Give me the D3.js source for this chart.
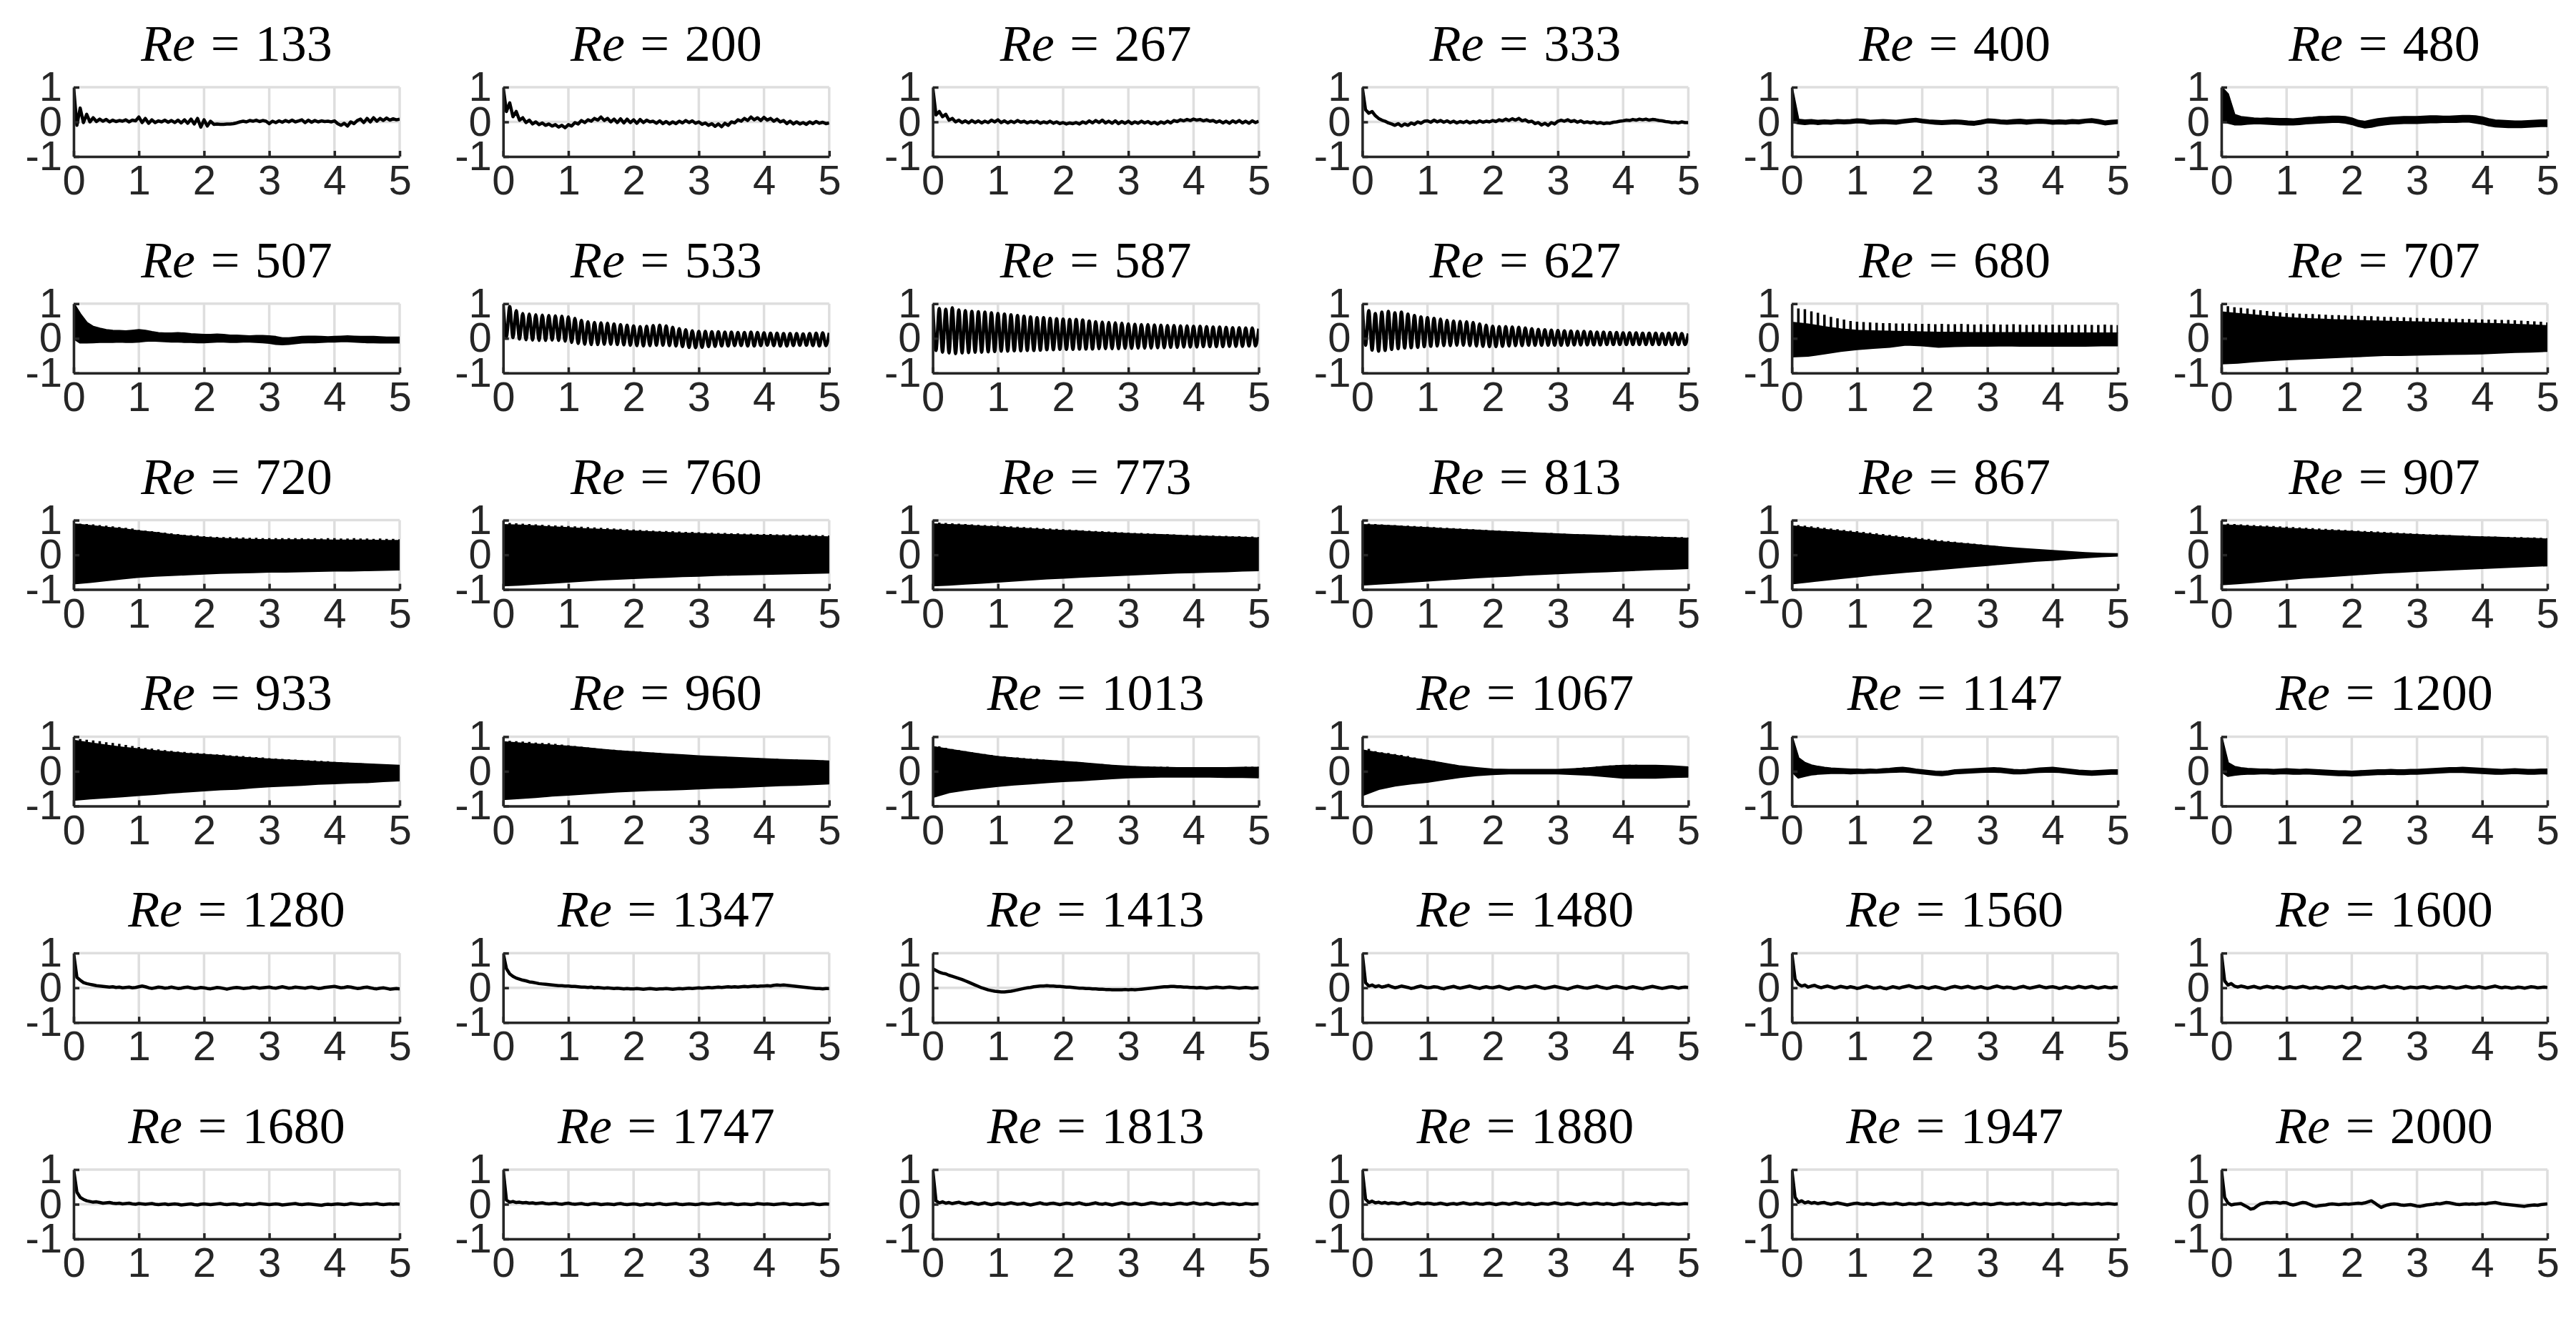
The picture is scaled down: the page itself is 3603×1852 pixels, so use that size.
<!DOCTYPE html>
<html><head><meta charset="utf-8">
<script src="https://cdn.jsdelivr.net/npm/d3@7"></script>
<style>body{margin:0;background:#fff}svg{display:block}</style>
</head><body>
<svg id="chart" width="3603" height="1852"></svg>
<script>
// ---------------- DATA ----------------
const reynolds = [133,200,267,333,400,480, 507,533,587,627,680,707, 720,760,773,813,867,907, 933,960,1013,1067,1147,1200, 1280,1347,1413,1480,1560,1600, 1680,1747,1813,1880,1947,2000];
const xTickValues = [0,1,2,3,4,5];
const yTickValues = [-1,0,1];
const tMax = 5;

// single-trace series, sampled every 0.05 (t = 0 ... 5)
const re133 = [1.00,-0.10,0.40,-0.02,0.22,0.00,0.12,0.01,0.08,0.02, 0.07,0.00,0.05,0.01,0.04,0.02,0.06,0.00,0.05,0.03, 0.14,-0.02,0.10,-0.04,0.06,-0.02,0.03,0.00,0.05,-0.01, 0.04,-0.02,0.05,-0.03,0.06,-0.04,0.08,-0.06,0.10,-0.15, 0.06,-0.12,0.02,-0.07,-0.06,-0.07,-0.07,-0.06,-0.06,-0.05, -0.03,0.00,0.02,0.00,0.04,0.02,0.05,0.01,0.04,0.02, -0.05,0.02,-0.02,0.03,-0.01,0.04,0.00,0.05,0.00,0.03, 0.06,-0.02,0.05,-0.01,0.04,0.00,0.03,0.01,0.02,0.00, 0.03,-0.05,-0.10,-0.04,-0.12,0.00,-0.05,0.04,0.08,-0.02, 0.10,0.00,0.12,0.02,0.10,0.04,0.11,0.05,0.09,0.06, 0.08];
const re200 = [1.00,0.30,0.55,0.15,0.30,0.05,0.12,-0.02,0.05,-0.06, 0.00,-0.08,-0.03,-0.10,-0.06,-0.12,-0.08,-0.15,-0.10,-0.17, -0.08,-0.12,-0.02,-0.06,0.04,-0.02,0.06,0.02,0.10,0.05, 0.14,0.04,0.10,0.00,0.08,-0.02,0.09,-0.03,0.08,-0.02, 0.06,-0.04,0.07,-0.02,0.05,0.00,0.02,-0.04,0.03,-0.05, 0.01,-0.06,0.00,-0.05,0.02,-0.03,0.04,-0.02,0.03,-0.04, 0.00,-0.07,-0.03,-0.10,-0.05,-0.13,-0.06,-0.14,-0.04,-0.10, 0.00,-0.03,0.06,0.02,0.10,0.04,0.14,0.06,0.12,0.04, 0.13,0.05,0.10,0.02,0.08,0.00,0.04,-0.05,0.02,-0.06, 0.00,-0.06,-0.02,-0.07,0.00,-0.05,0.01,-0.04,-0.01,-0.05, -0.03];
const re267 = [1.00,0.20,0.30,0.15,0.22,0.05,0.10,0.00,0.05,-0.02, 0.03,-0.03,0.04,-0.02,0.03,-0.03,0.02,-0.02,0.05,0.00, 0.06,-0.02,0.03,-0.03,0.02,-0.02,0.04,-0.01,0.02,-0.03, 0.01,-0.02,0.02,-0.04,0.00,-0.03,0.02,-0.04,0.00,-0.05, -0.02,-0.06,-0.03,-0.05,-0.02,-0.06,0.00,-0.04,0.03,-0.03, 0.04,-0.02,0.05,-0.03,0.02,-0.04,0.03,-0.05,0.01,-0.04, 0.02,-0.05,0.00,-0.04,0.02,-0.03,0.01,-0.05,-0.01,-0.06, 0.00,-0.04,0.02,-0.03,0.04,0.01,0.06,0.03,0.07,0.04, 0.08,0.05,0.07,0.03,0.06,0.02,0.04,-0.01,0.03,-0.03, 0.02,-0.04,0.03,-0.02,0.04,-0.03,0.02,-0.04,0.03,-0.02, 0.02];
const re333 = [1.00,0.35,0.25,0.30,0.18,0.10,0.05,0.02,-0.03,-0.06, -0.10,-0.05,-0.12,-0.06,-0.10,-0.03,-0.07,0.00,-0.04,0.02, 0.03,-0.01,0.05,0.00,0.04,-0.01,0.03,-0.02,0.02,-0.03, 0.01,-0.02,0.02,-0.03,0.01,-0.02,0.03,-0.01,0.02,0.00, 0.04,0.01,0.06,0.03,0.08,0.04,0.09,0.05,0.10,0.03, 0.06,0.00,0.02,-0.05,-0.02,-0.09,-0.04,-0.10,-0.02,-0.06, 0.02,0.05,0.02,0.06,0.01,0.04,-0.01,0.03,-0.02,0.00, -0.03,0.00,-0.04,-0.02,-0.05,-0.03,-0.04,-0.01,0.00,0.02, 0.03,0.05,0.04,0.07,0.05,0.08,0.06,0.08,0.05,0.07, 0.06,0.04,0.03,0.01,0.00,-0.02,-0.01,-0.03,0.00,-0.02, -0.02];
const re1280 = [1.00,0.30,0.22,0.15,0.12,0.10,0.08,0.06,0.05,0.04, 0.03,0.02,0.03,0.01,0.02,0.00,0.01,0.02,0.00,0.01, 0.03,0.05,0.03,0.00,-0.02,0.00,0.02,0.01,-0.01,0.00, 0.02,0.00,-0.02,-0.01,0.01,0.02,0.00,-0.02,-0.01,0.01, 0.00,-0.02,-0.03,-0.01,0.01,0.00,-0.02,-0.04,-0.02,0.00, 0.01,0.00,-0.02,-0.01,0.00,0.02,0.01,-0.01,0.00,0.01, 0.02,0.00,-0.01,0.01,0.03,0.01,-0.01,0.00,0.02,0.01, 0.00,-0.01,0.01,0.02,0.00,-0.02,-0.01,0.01,0.02,0.03, 0.04,0.02,0.00,0.01,0.03,0.02,0.00,-0.02,-0.01,0.01, 0.02,0.00,-0.02,-0.03,-0.01,0.00,-0.02,-0.04,-0.03,-0.02, -0.03];
const re1347 = [1.00,0.55,0.40,0.33,0.28,0.25,0.22,0.20,0.17,0.16, 0.14,0.12,0.11,0.10,0.09,0.08,0.07,0.06,0.06,0.05, 0.05,0.04,0.04,0.03,0.02,0.02,0.01,0.02,0.00,0.01, 0.00,-0.01,0.00,-0.01,-0.02,-0.01,-0.02,-0.03,-0.02,-0.03, -0.03,-0.02,-0.03,-0.04,-0.03,-0.02,-0.03,-0.04,-0.03,-0.03, -0.02,-0.03,-0.04,-0.03,-0.02,-0.03,-0.02,-0.01,-0.02,-0.01, 0.00,-0.01,0.00,0.01,0.00,0.01,0.02,0.01,0.02,0.03, 0.02,0.03,0.02,0.03,0.04,0.03,0.04,0.05,0.04,0.05, 0.05,0.06,0.05,0.07,0.08,0.07,0.08,0.07,0.06,0.05, 0.04,0.03,0.02,0.01,0.00,-0.01,-0.02,-0.02,-0.03,-0.02, -0.02];
const re1413 = [0.55,0.50,0.45,0.42,0.40,0.36,0.33,0.30,0.27,0.24, 0.20,0.16,0.12,0.08,0.04,0.00,-0.03,-0.06,-0.08,-0.10, -0.11,-0.12,-0.12,-0.11,-0.10,-0.08,-0.06,-0.04,-0.02,0.00, 0.01,0.03,0.04,0.05,0.05,0.06,0.05,0.05,0.04,0.04, 0.03,0.02,0.02,0.01,0.00,-0.01,-0.01,-0.02,-0.02,-0.03, -0.03,-0.04,-0.04,-0.05,-0.05,-0.06,-0.06,-0.06,-0.06,-0.05, -0.06,-0.05,-0.06,-0.05,-0.04,-0.03,-0.02,-0.01,0.00,0.01, 0.02,0.03,0.03,0.04,0.04,0.03,0.03,0.02,0.02,0.01, 0.01,0.00,0.01,0.00,-0.01,0.00,0.01,0.02,0.01,0.00, 0.01,0.02,0.01,0.00,-0.01,0.00,0.01,0.00,-0.01,0.00, 0.00];
const re1480 = [1.00,0.15,0.05,0.08,0.03,0.06,0.02,0.04,0.07,0.03, 0.00,0.02,0.05,0.03,0.01,-0.02,0.00,0.03,0.05,0.02, 0.00,0.01,0.03,0.02,-0.01,-0.03,0.00,0.02,0.04,0.01, -0.01,0.01,0.03,0.05,0.02,0.00,-0.02,0.01,0.03,0.01, 0.00,0.02,0.04,0.01,-0.02,-0.04,-0.01,0.02,0.03,0.01, -0.01,0.01,0.03,0.05,0.03,0.00,-0.02,0.00,0.02,0.04, 0.02,0.00,-0.02,-0.04,-0.01,0.02,0.04,0.02,0.00,-0.01, 0.01,0.03,0.05,0.02,0.00,-0.02,0.00,0.03,0.04,0.02, 0.00,-0.02,0.01,0.03,0.01,-0.01,-0.03,0.00,0.02,0.04, 0.02,0.00,-0.02,0.00,0.02,0.03,0.01,-0.01,0.01,0.02, 0.01];
const re1560 = [1.00,0.25,0.10,0.05,0.08,0.02,0.05,0.07,0.03,0.00, 0.03,0.05,0.02,-0.01,0.01,0.04,0.02,0.00,0.03,0.01, -0.02,0.00,0.03,0.05,0.02,-0.01,0.00,0.02,-0.01,-0.03, 0.00,0.03,0.01,-0.01,0.02,0.04,0.06,0.03,0.00,0.01, 0.03,0.00,-0.02,0.01,0.03,0.01,-0.02,-0.04,-0.01,0.02, 0.04,0.02,0.00,0.02,0.04,0.01,-0.01,0.01,0.03,0.00, -0.02,0.00,0.03,0.05,0.02,0.00,0.02,0.01,-0.02,-0.01, 0.02,0.04,0.01,-0.01,0.01,0.03,0.05,0.02,0.00,0.02, 0.03,0.01,-0.02,0.00,0.03,0.01,-0.01,0.01,0.04,0.02, 0.00,0.02,0.04,0.01,-0.01,0.01,0.03,0.01,0.00,0.02, 0.01];
const re1600 = [1.00,0.20,0.08,0.12,0.05,0.02,0.05,0.03,0.00,0.02, 0.04,0.01,-0.01,0.02,0.04,0.02,0.00,0.03,0.01,-0.02, 0.01,0.03,0.01,0.00,0.02,0.04,0.02,-0.01,0.00,0.02, 0.00,-0.02,0.01,0.03,0.02,0.00,0.02,0.04,0.01,-0.01, 0.01,0.03,0.00,-0.02,0.00,0.02,0.01,-0.01,0.01,0.03, 0.05,0.02,0.00,0.01,0.03,0.01,-0.02,0.00,0.02,0.01, 0.00,0.02,0.03,0.01,-0.01,0.01,0.03,0.02,0.00,0.01, 0.03,0.01,-0.01,0.00,0.02,0.04,0.02,0.00,0.01,0.03, 0.01,-0.01,0.01,0.03,0.05,0.02,0.00,0.02,0.01,-0.01, 0.00,0.02,0.01,-0.01,0.01,0.03,0.02,0.00,0.01,0.02, 0.01];
const re1680 = [1.00,0.35,0.20,0.14,0.10,0.08,0.06,0.07,0.05,0.03, 0.04,0.05,0.03,0.02,0.03,0.01,0.02,0.03,0.01,0.00, 0.02,0.01,0.00,0.01,0.02,0.00,-0.01,0.00,0.01,-0.01, 0.00,0.01,0.00,-0.02,-0.01,0.00,0.01,-0.01,-0.02,0.00, 0.01,0.00,-0.01,0.00,0.01,0.02,0.00,-0.01,0.00,0.01, 0.00,-0.02,-0.01,0.01,0.00,-0.01,0.00,0.02,0.01,0.00, -0.01,0.00,0.01,0.00,-0.02,-0.01,0.00,0.01,0.02,0.00, -0.01,0.00,0.01,0.00,-0.01,-0.02,-0.03,-0.01,0.00,-0.01, 0.00,0.01,0.00,-0.01,0.00,0.02,0.01,0.00,-0.01,0.00, 0.01,0.00,0.01,0.02,0.00,-0.01,0.00,0.01,0.00,0.01, 0.00];
const re1747 = [1.00,0.12,0.06,0.08,0.05,0.06,0.04,0.05,0.03,0.04, 0.02,0.03,0.04,0.02,0.01,0.02,0.03,0.01,0.00,0.02, 0.03,0.01,0.00,0.01,0.02,0.00,-0.01,0.01,0.02,0.01, -0.01,0.00,0.01,0.00,-0.01,0.01,0.02,0.00,-0.01,0.00, 0.01,0.00,-0.02,-0.01,0.01,0.00,-0.01,0.01,0.02,0.00, -0.01,0.00,0.01,0.02,0.00,-0.01,0.00,0.01,0.00,-0.01, 0.00,0.02,0.01,0.00,0.01,0.02,0.03,0.01,0.00,0.01, 0.02,0.00,-0.01,0.00,0.01,0.00,-0.01,0.00,0.02,0.01, 0.00,0.01,0.00,-0.01,0.00,0.01,0.02,0.01,-0.01,0.00, 0.01,0.00,-0.01,0.00,0.01,0.02,0.00,-0.01,0.00,0.01, 0.00];
const re1813 = [1.00,0.10,0.04,0.07,0.03,0.05,0.02,0.04,0.06,0.03, 0.01,0.03,0.05,0.02,0.00,0.02,0.04,0.01,-0.01,0.01, 0.03,0.01,0.00,0.02,0.04,0.02,0.00,0.01,0.03,0.00, -0.02,0.00,0.02,0.04,0.01,0.00,0.02,0.03,0.01,-0.01, 0.01,0.03,0.02,0.00,0.02,0.04,0.01,-0.01,0.00,0.02, 0.04,0.01,0.00,0.02,0.00,-0.02,0.00,0.02,0.04,0.02, 0.00,0.01,0.03,0.01,-0.01,0.00,0.02,0.04,0.03,0.01, 0.00,0.02,0.01,-0.01,0.00,0.02,0.03,0.01,0.00,0.02, 0.04,0.02,0.00,0.01,0.03,0.01,-0.01,0.00,0.02,0.03, 0.01,0.00,0.02,0.01,-0.01,0.00,0.02,0.01,0.00,0.01, 0.01];
const re1880 = [1.00,0.15,0.05,0.09,0.04,0.06,0.03,0.05,0.02,0.04, 0.03,0.01,0.03,0.05,0.02,0.00,0.02,0.04,0.02,0.01, 0.03,0.02,0.00,0.01,0.03,0.01,-0.01,0.01,0.02,0.00, 0.02,0.04,0.02,0.00,0.01,0.03,0.01,0.00,0.02,0.03, 0.01,-0.01,0.01,0.03,0.02,0.00,0.02,0.04,0.02,0.00, 0.01,0.03,0.01,-0.01,0.00,0.02,0.01,0.00,0.02,0.04, 0.02,0.00,0.01,0.03,0.02,0.00,-0.01,0.01,0.03,0.01, 0.00,0.02,0.03,0.01,0.00,0.02,0.01,-0.01,0.00,0.02, 0.03,0.01,0.00,0.01,0.03,0.02,0.00,0.01,0.02,0.00, -0.01,0.01,0.02,0.01,0.00,0.02,0.01,0.00,0.01,0.02, 0.01];
const re1947 = [1.00,0.20,0.06,0.10,0.04,0.07,0.03,0.05,0.02,0.04, 0.05,0.02,0.00,0.02,0.04,0.02,0.00,-0.02,0.00,0.02, 0.03,0.01,0.00,0.02,0.01,-0.01,0.00,0.02,0.03,0.01, 0.00,0.01,0.03,0.01,-0.01,0.00,0.02,0.01,0.00,0.02, 0.03,0.01,-0.01,0.00,0.02,0.01,0.00,0.01,0.03,0.02, 0.00,0.01,0.02,0.00,-0.01,0.01,0.03,0.01,0.00,0.02, 0.01,-0.01,0.00,0.02,0.03,0.01,0.00,0.01,0.02,0.00, 0.01,0.03,0.01,0.00,0.02,0.01,-0.01,0.00,0.02,0.01, 0.00,0.01,0.02,0.00,-0.01,0.01,0.02,0.01,0.00,0.01, 0.02,0.01,0.00,0.01,0.02,0.00,0.01,0.02,0.01,0.00, 0.01];
const re2000 = [1.00,0.20,0.04,-0.02,0.00,0.01,0.02,-0.03,-0.08,-0.14, -0.12,-0.05,0.01,0.03,0.05,0.04,0.05,0.05,0.03,0.05, 0.04,0.00,-0.02,0.00,0.03,0.05,0.04,0.00,-0.04,-0.06, -0.04,-0.03,-0.02,0.00,0.01,0.00,-0.01,0.00,0.01,0.00, 0.01,0.02,0.03,0.02,0.04,0.07,0.10,0.04,-0.03,-0.09, -0.05,-0.02,0.00,0.01,0.00,-0.02,-0.03,-0.02,-0.01,-0.03, -0.05,-0.06,-0.04,-0.02,-0.01,0.00,0.02,0.01,0.03,0.05, 0.04,0.02,0.00,-0.01,0.00,0.01,0.00,0.01,0.00,0.01, 0.02,0.01,0.03,0.04,0.05,0.03,0.01,0.00,-0.01,-0.02, -0.03,-0.04,-0.05,-0.06,-0.04,-0.03,-0.02,-0.03,-0.01,0.00, 0.01];

// thin-band series: upper / lower envelope every 0.1
const re400_hi = [1.00,0.06,0.04,0.05,0.03,0.04,0.03,0.05,0.04,0.05,0.07,0.06,0.03,0.04,0.05,0.04,0.03,0.05,0.07,0.09,0.06,0.04,0.03,0.02,0.03,0.04,0.03,0.01,0.00,0.03,0.07,0.06,0.04,0.03,0.05,0.06,0.04,0.05,0.06,0.05,0.03,0.04,0.03,0.05,0.04,0.06,0.08,0.05,0.01,0.03,0.04];
const re400_lo = [0.00,-0.04,-0.06,-0.04,-0.06,-0.04,-0.05,-0.03,-0.04,-0.03,-0.01,-0.02,-0.05,-0.04,-0.03,-0.04,-0.05,-0.02,0.00,0.02,-0.01,-0.03,-0.05,-0.06,-0.05,-0.04,-0.05,-0.07,-0.08,-0.05,-0.01,-0.02,-0.04,-0.05,-0.04,-0.03,-0.05,-0.03,-0.02,-0.03,-0.05,-0.04,-0.05,-0.03,-0.04,-0.01,0.00,-0.03,-0.07,-0.05,-0.03];
const re480_hi = [1.00,0.80,0.20,0.14,0.12,0.10,0.09,0.10,0.09,0.08,0.08,0.07,0.09,0.11,0.12,0.14,0.14,0.15,0.15,0.14,0.10,0.03,0.00,0.04,0.08,0.10,0.12,0.13,0.14,0.14,0.14,0.15,0.16,0.16,0.15,0.15,0.16,0.17,0.17,0.16,0.13,0.08,0.04,0.03,0.02,0.01,0.01,0.02,0.03,0.04,0.04];
const re480_lo = [0.00,-0.02,-0.07,-0.07,-0.05,-0.04,-0.04,-0.05,-0.06,-0.07,-0.07,-0.07,-0.06,-0.04,-0.03,-0.02,-0.01,0.00,0.00,-0.02,-0.06,-0.12,-0.16,-0.14,-0.10,-0.07,-0.05,-0.04,-0.03,-0.03,-0.03,-0.02,-0.01,-0.01,0.00,0.00,0.00,0.01,0.01,-0.02,-0.05,-0.10,-0.13,-0.14,-0.15,-0.15,-0.15,-0.14,-0.13,-0.12,-0.12];
const re507_hi = [1.00,0.70,0.45,0.33,0.28,0.24,0.22,0.21,0.20,0.22,0.24,0.22,0.18,0.15,0.14,0.14,0.15,0.14,0.12,0.11,0.10,0.10,0.11,0.10,0.08,0.08,0.07,0.06,0.07,0.07,0.06,0.04,0.00,0.00,0.02,0.04,0.05,0.05,0.04,0.03,0.04,0.05,0.06,0.05,0.04,0.04,0.04,0.03,0.02,0.02,0.02];
const re507_lo = [0.00,-0.12,-0.12,-0.11,-0.10,-0.10,-0.10,-0.09,-0.10,-0.10,-0.09,-0.07,-0.06,-0.07,-0.08,-0.09,-0.09,-0.10,-0.10,-0.11,-0.11,-0.10,-0.09,-0.09,-0.10,-0.10,-0.09,-0.09,-0.10,-0.11,-0.13,-0.16,-0.17,-0.16,-0.14,-0.12,-0.11,-0.11,-0.10,-0.09,-0.09,-0.08,-0.08,-0.09,-0.10,-0.11,-0.11,-0.12,-0.12,-0.12,-0.12];
const re1147_hi = [1.00,0.38,0.24,0.17,0.13,0.10,0.08,0.07,0.06,0.05,0.05,0.04,0.05,0.04,0.06,0.07,0.09,0.10,0.08,0.05,0.03,0.01,-0.01,-0.02,0.00,0.03,0.04,0.05,0.06,0.07,0.08,0.09,0.08,0.06,0.04,0.03,0.04,0.06,0.08,0.09,0.10,0.08,0.06,0.04,0.02,0.01,0.00,0.01,0.02,0.03,0.03];
const re1147_lo = [0.00,-0.18,-0.13,-0.09,-0.07,-0.06,-0.05,-0.05,-0.05,-0.06,-0.05,-0.05,-0.04,-0.04,-0.03,-0.02,-0.01,0.00,-0.02,-0.04,-0.06,-0.08,-0.10,-0.11,-0.09,-0.06,-0.05,-0.04,-0.03,-0.02,-0.01,-0.01,-0.02,-0.04,-0.06,-0.06,-0.05,-0.03,-0.02,-0.01,-0.01,-0.02,-0.04,-0.06,-0.08,-0.09,-0.10,-0.09,-0.08,-0.07,-0.07];
const re1200_hi = [1.00,0.24,0.13,0.09,0.07,0.06,0.05,0.05,0.04,0.05,0.06,0.05,0.04,0.05,0.04,0.03,0.02,0.01,0.00,0.00,-0.01,0.00,0.01,0.02,0.03,0.03,0.04,0.03,0.03,0.04,0.04,0.05,0.06,0.07,0.08,0.09,0.09,0.10,0.09,0.08,0.07,0.06,0.05,0.04,0.05,0.06,0.05,0.04,0.04,0.05,0.05];
const re1200_lo = [0.00,-0.13,-0.10,-0.08,-0.07,-0.07,-0.06,-0.06,-0.07,-0.06,-0.06,-0.07,-0.07,-0.06,-0.07,-0.08,-0.09,-0.10,-0.11,-0.11,-0.12,-0.11,-0.10,-0.09,-0.08,-0.08,-0.07,-0.08,-0.08,-0.07,-0.07,-0.06,-0.05,-0.04,-0.03,-0.02,-0.02,-0.02,-0.03,-0.04,-0.05,-0.06,-0.07,-0.07,-0.06,-0.05,-0.06,-0.07,-0.07,-0.06,-0.06];

// resolved oscillations: peaks at t = k*period, troughs at t = (k+0.5)*period
const oscPeriod = 0.1;
const re533_peaks = [1.00,0.92,0.80,0.72,0.70,0.68,0.67,0.66,0.65,0.64, 0.62,0.58,0.52,0.48,0.46,0.45,0.44,0.42,0.40,0.38, 0.36,0.34,0.35,0.37,0.38,0.36,0.32,0.28,0.25,0.22, 0.20,0.20,0.19,0.19,0.18,0.18,0.17,0.17,0.18,0.17, 0.16,0.15,0.15,0.14,0.14,0.14,0.13,0.14,0.15,0.16,0.16];
const re533_troughs = [0.05,0.02,-0.02,-0.04,-0.05,-0.06,-0.06,-0.05,-0.06,-0.08, -0.12,-0.15,-0.17,-0.18,-0.18,-0.17,-0.17,-0.18,-0.19,-0.20, -0.21,-0.22,-0.21,-0.20,-0.20,-0.21,-0.22,-0.24,-0.26,-0.27, -0.26,-0.24,-0.23,-0.22,-0.22,-0.21,-0.21,-0.22,-0.22,-0.21, -0.20,-0.21,-0.22,-0.22,-0.21,-0.20,-0.20,-0.21,-0.22,-0.21];
const re587_peaks = [1.00,0.86,0.84,0.88,0.82,0.80,0.78,0.77,0.76,0.74, 0.72,0.70,0.68,0.66,0.64,0.62,0.60,0.60,0.58,0.57, 0.56,0.55,0.55,0.53,0.50,0.48,0.47,0.46,0.45,0.44, 0.42,0.41,0.40,0.40,0.39,0.38,0.37,0.37,0.36,0.36, 0.35,0.35,0.34,0.33,0.33,0.32,0.31,0.31,0.30,0.30,0.28];
const re587_troughs = [-0.35,-0.40,-0.42,-0.44,-0.42,-0.41,-0.40,-0.40,-0.39,-0.38, -0.37,-0.37,-0.36,-0.36,-0.35,-0.35,-0.34,-0.33,-0.33,-0.32, -0.32,-0.32,-0.31,-0.31,-0.31,-0.30,-0.30,-0.30,-0.30,-0.29, -0.29,-0.28,-0.28,-0.28,-0.27,-0.27,-0.26,-0.26,-0.25,-0.25, -0.25,-0.24,-0.24,-0.24,-0.24,-0.23,-0.23,-0.23,-0.22,-0.22];
const re627_peaks = [1.00,0.80,0.72,0.76,0.78,0.74,0.76,0.70,0.66,0.62, 0.60,0.58,0.56,0.52,0.50,0.49,0.48,0.46,0.42,0.38, 0.35,0.34,0.34,0.33,0.32,0.30,0.28,0.26,0.25,0.24, 0.23,0.22,0.21,0.20,0.20,0.19,0.18,0.18,0.17,0.17, 0.16,0.16,0.16,0.15,0.15,0.15,0.14,0.15,0.15,0.14,0.14];
const re627_troughs = [-0.20,-0.34,-0.37,-0.35,-0.32,-0.30,-0.28,-0.27,-0.26,-0.24, -0.23,-0.22,-0.21,-0.21,-0.20,-0.20,-0.21,-0.22,-0.23,-0.24, -0.24,-0.23,-0.22,-0.21,-0.21,-0.20,-0.20,-0.20,-0.20,-0.20, -0.20,-0.20,-0.19,-0.19,-0.19,-0.19,-0.19,-0.18,-0.18,-0.18, -0.18,-0.18,-0.18,-0.18,-0.18,-0.18,-0.18,-0.18,-0.18,-0.18];

// unresolved fast oscillation: spike tips (every 0.1), top of solid band and bottom (every 0.25)
const re680_hi = [1.00,0.86,0.84,0.78,0.74,0.68,0.62,0.58,0.54,0.50,0.48,0.47,0.46,0.45,0.44,0.44,0.43,0.43,0.43,0.42,0.42,0.42,0.41,0.42,0.41,0.41,0.42,0.41,0.40,0.41,0.40,0.41,0.40,0.40,0.41,0.40,0.39,0.40,0.40,0.39,0.40,0.39,0.40,0.39,0.39,0.40,0.39,0.39,0.40,0.39,0.38];
const re680_core = [0.45,0.40,0.32,0.26,0.22,0.20,0.19,0.18,0.17,0.16,0.16,0.15,0.15,0.15,0.15,0.15,0.14,0.14,0.14,0.14,0.14];
const re680_lo = [-0.52,-0.50,-0.43,-0.36,-0.31,-0.27,-0.24,-0.18,-0.20,-0.24,-0.22,-0.21,-0.21,-0.20,-0.21,-0.21,-0.21,-0.21,-0.21,-0.20,-0.20];
const re707_hi = [1.00,0.93,0.90,0.88,0.86,0.83,0.81,0.79,0.77,0.75,0.73,0.72,0.71,0.70,0.70,0.69,0.68,0.67,0.67,0.66,0.65,0.65,0.64,0.64,0.63,0.62,0.62,0.61,0.61,0.60,0.59,0.59,0.58,0.58,0.58,0.57,0.57,0.56,0.56,0.55,0.55,0.54,0.54,0.53,0.53,0.52,0.51,0.50,0.49,0.48,0.46];
const re707_core = [0.75,0.70,0.66,0.62,0.59,0.56,0.54,0.52,0.51,0.49,0.48,0.47,0.46,0.45,0.44,0.43,0.42,0.41,0.39,0.37,0.35];
const re707_lo = [-0.72,-0.70,-0.66,-0.63,-0.60,-0.58,-0.56,-0.54,-0.52,-0.50,-0.48,-0.48,-0.47,-0.46,-0.45,-0.44,-0.43,-0.41,-0.39,-0.38,-0.36];
const re720_hi = [1.00,0.90,0.89,0.88,0.86,0.84,0.82,0.80,0.78,0.76,0.72,0.70,0.68,0.66,0.64,0.62,0.60,0.58,0.57,0.56,0.54,0.53,0.52,0.51,0.51,0.50,0.50,0.49,0.49,0.48,0.48,0.48,0.48,0.48,0.48,0.48,0.47,0.48,0.47,0.48,0.48,0.47,0.47,0.48,0.47,0.47,0.46,0.47,0.46,0.46,0.45];
const re720_core = [0.88,0.83,0.78,0.74,0.68,0.63,0.57,0.53,0.49,0.46,0.44,0.43,0.42,0.42,0.42,0.42,0.41,0.41,0.41,0.40,0.40];
const re720_lo = [-0.82,-0.78,-0.73,-0.68,-0.63,-0.60,-0.58,-0.56,-0.54,-0.52,-0.51,-0.50,-0.48,-0.48,-0.47,-0.46,-0.45,-0.45,-0.44,-0.43,-0.42];
const re760_hi = [1.00,0.92,0.91,0.90,0.89,0.88,0.87,0.86,0.85,0.84,0.83,0.82,0.81,0.80,0.79,0.78,0.77,0.76,0.75,0.74,0.73,0.72,0.71,0.70,0.69,0.69,0.68,0.67,0.66,0.66,0.65,0.64,0.64,0.63,0.63,0.62,0.62,0.61,0.61,0.60,0.60,0.60,0.59,0.59,0.59,0.58,0.58,0.58,0.57,0.57,0.56];
const re760_core = [0.86,0.84,0.82,0.79,0.77,0.74,0.72,0.70,0.67,0.65,0.63,0.61,0.60,0.58,0.57,0.56,0.55,0.54,0.53,0.52,0.50];
const re760_lo = [-0.88,-0.86,-0.83,-0.80,-0.77,-0.74,-0.71,-0.69,-0.67,-0.65,-0.63,-0.61,-0.60,-0.58,-0.57,-0.56,-0.55,-0.54,-0.53,-0.52,-0.51];
const re773_hi = [1.00,0.93,0.92,0.91,0.90,0.89,0.88,0.87,0.86,0.85,0.84,0.83,0.82,0.81,0.80,0.79,0.78,0.77,0.76,0.75,0.74,0.73,0.72,0.71,0.70,0.69,0.68,0.67,0.66,0.65,0.64,0.63,0.63,0.62,0.61,0.60,0.60,0.59,0.58,0.58,0.57,0.57,0.56,0.56,0.55,0.55,0.54,0.54,0.53,0.53,0.52];
const re773_core = [0.88,0.86,0.84,0.81,0.79,0.76,0.74,0.71,0.69,0.67,0.64,0.62,0.60,0.58,0.57,0.55,0.53,0.52,0.50,0.49,0.47];
const re773_lo = [-0.88,-0.86,-0.83,-0.80,-0.77,-0.74,-0.71,-0.68,-0.66,-0.63,-0.61,-0.59,-0.57,-0.55,-0.53,-0.51,-0.50,-0.48,-0.47,-0.45,-0.44];
const re813_hi = [1.00,0.90,0.89,0.88,0.87,0.86,0.85,0.84,0.83,0.82,0.81,0.80,0.79,0.78,0.77,0.76,0.75,0.74,0.73,0.72,0.71,0.70,0.69,0.68,0.67,0.66,0.65,0.64,0.63,0.63,0.62,0.61,0.60,0.60,0.59,0.58,0.58,0.57,0.57,0.56,0.56,0.55,0.55,0.54,0.54,0.53,0.53,0.52,0.52,0.51,0.50];
const re813_core = [0.86,0.84,0.82,0.79,0.77,0.74,0.72,0.70,0.67,0.65,0.63,0.61,0.59,0.57,0.56,0.54,0.52,0.51,0.49,0.48,0.46];
const re813_lo = [-0.86,-0.83,-0.80,-0.77,-0.74,-0.71,-0.68,-0.65,-0.62,-0.60,-0.57,-0.55,-0.53,-0.51,-0.49,-0.47,-0.45,-0.43,-0.41,-0.40,-0.38];
const re867_hi = [1.00,0.86,0.84,0.82,0.80,0.78,0.76,0.74,0.72,0.70,0.68,0.66,0.64,0.62,0.60,0.58,0.56,0.54,0.52,0.50,0.48,0.46,0.44,0.42,0.40,0.38,0.36,0.34,0.32,0.30,0.28,0.26,0.24,0.22,0.21,0.19,0.17,0.16,0.14,0.13,0.11,0.10,0.09,0.08,0.07,0.06,0.05,0.05,0.04,0.04,0.03];
const re867_core = [0.82,0.77,0.72,0.67,0.62,0.57,0.52,0.47,0.42,0.37,0.33,0.29,0.25,0.21,0.17,0.14,0.11,0.08,0.05,0.03,0.02];
const re867_lo = [-0.82,-0.77,-0.72,-0.67,-0.62,-0.57,-0.53,-0.49,-0.45,-0.41,-0.37,-0.33,-0.29,-0.25,-0.21,-0.17,-0.14,-0.10,-0.07,-0.04,-0.02];
const re907_hi = [1.00,0.90,0.89,0.88,0.87,0.86,0.85,0.84,0.83,0.82,0.81,0.80,0.79,0.78,0.77,0.76,0.75,0.74,0.73,0.72,0.71,0.70,0.69,0.68,0.67,0.66,0.65,0.64,0.63,0.62,0.61,0.60,0.59,0.59,0.58,0.57,0.56,0.56,0.55,0.54,0.54,0.53,0.53,0.52,0.52,0.51,0.51,0.50,0.50,0.49,0.48];
const re907_core = [0.85,0.83,0.80,0.78,0.75,0.73,0.70,0.68,0.66,0.63,0.61,0.59,0.57,0.55,0.54,0.52,0.50,0.49,0.47,0.46,0.44];
const re907_lo = [-0.85,-0.82,-0.78,-0.74,-0.70,-0.66,-0.63,-0.60,-0.57,-0.54,-0.51,-0.49,-0.46,-0.44,-0.42,-0.40,-0.38,-0.36,-0.34,-0.32,-0.30];
const re933_hi = [1.00,0.93,0.91,0.89,0.87,0.84,0.82,0.79,0.76,0.73,0.70,0.68,0.66,0.63,0.61,0.59,0.57,0.56,0.54,0.53,0.52,0.50,0.49,0.48,0.46,0.45,0.44,0.42,0.41,0.40,0.38,0.37,0.36,0.35,0.34,0.33,0.32,0.31,0.30,0.29,0.27,0.26,0.25,0.24,0.23,0.22,0.21,0.20,0.19,0.18,0.17];
const re933_core = [0.88,0.81,0.74,0.68,0.63,0.58,0.54,0.50,0.47,0.44,0.40,0.37,0.34,0.31,0.29,0.26,0.24,0.22,0.20,0.18,0.16];
const re933_lo = [-0.82,-0.78,-0.75,-0.72,-0.68,-0.65,-0.61,-0.58,-0.55,-0.52,-0.50,-0.46,-0.43,-0.41,-0.39,-0.36,-0.34,-0.32,-0.31,-0.28,-0.26];
const re960_hi = [1.00,0.88,0.87,0.86,0.85,0.83,0.82,0.81,0.79,0.77,0.75,0.73,0.71,0.69,0.67,0.65,0.63,0.62,0.60,0.59,0.58,0.57,0.55,0.54,0.53,0.51,0.50,0.49,0.47,0.46,0.45,0.44,0.43,0.42,0.42,0.41,0.40,0.39,0.39,0.38,0.37,0.36,0.36,0.35,0.35,0.34,0.33,0.33,0.32,0.31,0.30];
const re960_core = [0.84,0.80,0.77,0.74,0.71,0.67,0.62,0.58,0.55,0.52,0.49,0.46,0.43,0.41,0.39,0.37,0.35,0.33,0.31,0.30,0.28];
const re960_lo = [-0.80,-0.77,-0.74,-0.70,-0.67,-0.64,-0.61,-0.58,-0.56,-0.54,-0.53,-0.51,-0.49,-0.47,-0.46,-0.44,-0.42,-0.40,-0.39,-0.37,-0.35];
const re1013_hi = [1.00,0.72,0.68,0.64,0.61,0.58,0.55,0.52,0.50,0.47,0.44,0.43,0.41,0.40,0.38,0.37,0.36,0.34,0.33,0.31,0.30,0.28,0.27,0.25,0.24,0.22,0.21,0.19,0.18,0.16,0.15,0.15,0.14,0.14,0.13,0.13,0.13,0.12,0.12,0.12,0.12,0.12,0.12,0.12,0.12,0.12,0.12,0.12,0.13,0.13,0.13];
const re1013_core = [0.70,0.62,0.55,0.48,0.41,0.37,0.33,0.30,0.27,0.24,0.20,0.16,0.13,0.11,0.10,0.09,0.09,0.09,0.09,0.10,0.10];
const re1013_lo = [-0.74,-0.60,-0.53,-0.47,-0.42,-0.38,-0.35,-0.31,-0.28,-0.26,-0.23,-0.20,-0.17,-0.16,-0.15,-0.15,-0.15,-0.15,-0.16,-0.16,-0.17];
const re1067_hi = [1.00,0.65,0.58,0.55,0.53,0.50,0.47,0.44,0.40,0.36,0.33,0.30,0.26,0.22,0.19,0.15,0.13,0.11,0.09,0.07,0.06,0.06,0.05,0.05,0.05,0.05,0.05,0.05,0.06,0.06,0.06,0.07,0.08,0.09,0.11,0.12,0.14,0.15,0.17,0.18,0.18,0.19,0.19,0.18,0.18,0.18,0.17,0.16,0.15,0.14,0.12];
const re1067_core = [0.60,0.52,0.45,0.37,0.30,0.22,0.14,0.09,0.05,0.04,0.04,0.04,0.04,0.06,0.09,0.13,0.16,0.16,0.16,0.14,0.11];
const re1067_lo = [-0.69,-0.51,-0.41,-0.35,-0.30,-0.23,-0.16,-0.11,-0.08,-0.06,-0.06,-0.06,-0.06,-0.08,-0.10,-0.14,-0.18,-0.18,-0.18,-0.16,-0.15];

// panel table built from the arrays above
const panelSeries = [
  {kind:"line", v:re133},{kind:"line", v:re200},{kind:"line", v:re267},{kind:"line", v:re333},
  {kind:"band", hi:re400_hi, lo:re400_lo},{kind:"band", hi:re480_hi, lo:re480_lo},
  {kind:"band", hi:re507_hi, lo:re507_lo},
  {kind:"osc", peaks:re533_peaks, troughs:re533_troughs},
  {kind:"osc", peaks:re587_peaks, troughs:re587_troughs},
  {kind:"osc", peaks:re627_peaks, troughs:re627_troughs},
  {kind:"dense", hi:re680_hi, core:re680_core, lo:re680_lo},
  {kind:"dense", hi:re707_hi, core:re707_core, lo:re707_lo},
  {kind:"dense", hi:re720_hi, core:re720_core, lo:re720_lo},
  {kind:"dense", hi:re760_hi, core:re760_core, lo:re760_lo},
  {kind:"dense", hi:re773_hi, core:re773_core, lo:re773_lo},
  {kind:"dense", hi:re813_hi, core:re813_core, lo:re813_lo},
  {kind:"dense", hi:re867_hi, core:re867_core, lo:re867_lo},
  {kind:"dense", hi:re907_hi, core:re907_core, lo:re907_lo},
  {kind:"dense", hi:re933_hi, core:re933_core, lo:re933_lo},
  {kind:"dense", hi:re960_hi, core:re960_core, lo:re960_lo},
  {kind:"dense", hi:re1013_hi, core:re1013_core, lo:re1013_lo},
  {kind:"dense", hi:re1067_hi, core:re1067_core, lo:re1067_lo},
  {kind:"band", hi:re1147_hi, lo:re1147_lo},{kind:"band", hi:re1200_hi, lo:re1200_lo},
  {kind:"line", v:re1280},{kind:"line", v:re1347},{kind:"line", v:re1413},
  {kind:"line", v:re1480},{kind:"line", v:re1560},{kind:"line", v:re1600},
  {kind:"line", v:re1680},{kind:"line", v:re1747},{kind:"line", v:re1813},
  {kind:"line", v:re1880},{kind:"line", v:re1947},{kind:"line", v:re2000}
];

// ---------------- LAYOUT ----------------
const nCols = 6;
const colLeft0 = 103, colStep = 600.8, boxW = 456;
const rowTop0 = 122, rowStep = 302.8, boxH = 97;
const axisColor = "#262626", gridColor = "#dedede";
const tickFont = "'Liberation Sans', Arial, Helvetica, sans-serif";
const titleFont = "'Liberation Serif', 'Times New Roman', serif";

const svg = d3.select("#chart");
svg.append("rect").attr("width",3603).attr("height",1852).attr("fill","#fff");
const defs = svg.append("defs");
const timesOf = arr => arr.map((_, i) => i * tMax / (arr.length - 1));

panelSeries.forEach((p, i) => {
  const col = i % nCols, row = Math.floor(i / nCols);
  const x0 = colLeft0 + col * colStep, y0 = rowTop0 + row * rowStep;
  const x = d3.scaleLinear().domain([0, tMax]).range([x0, x0 + boxW]);
  const y = d3.scaleLinear().domain([-1, 1]).range([y0 + boxH, y0]);
  const g = svg.append("g");

  // grid
  g.selectAll(null).data(xTickValues).join("line")
    .attr("x1", d => x(d)).attr("x2", d => x(d)).attr("y1", y(-1)).attr("y2", y(1))
    .attr("stroke", gridColor).attr("stroke-width", 3.5);
  g.selectAll(null).data(yTickValues).join("line")
    .attr("x1", x(0)).attr("x2", x(tMax)).attr("y1", d => y(d)).attr("y2", d => y(d))
    .attr("stroke", gridColor).attr("stroke-width", 3.5);

  // clip
  const cid = "clip" + i;
  defs.append("clipPath").attr("id", cid).append("rect")
    .attr("x", x(0)).attr("y", y(1)).attr("width", x(tMax) - x(0)).attr("height", y(-1) - y(1));
  const dg = g.append("g").attr("clip-path", `url(#${cid})`);

  if (p.kind === "line") {
    const ts = timesOf(p.v);
    dg.append("path").datum(p.v.map((v, k) => [ts[k], v]))
      .attr("d", d3.line().x(d => x(d[0])).y(d => y(d[1])))
      .attr("fill", "none").attr("stroke", "#000").attr("stroke-width", 4.5)
      .attr("stroke-linejoin", "round");
  } else if (p.kind === "band") {
    const ts = timesOf(p.hi);
    dg.append("path").datum(p.hi.map((v, k) => [ts[k], p.lo[k], v]))
      .attr("d", d3.area().x(d => x(d[0])).y0(d => y(d[1])).y1(d => y(d[2])))
      .attr("fill", "#000").attr("stroke", "#000").attr("stroke-width", 3)
      .attr("stroke-linejoin", "round");
  } else if (p.kind === "osc") {
    const pts = [];
    p.peaks.forEach((v, k) => {
      pts.push([k * oscPeriod, v]);
      if (k < p.troughs.length) pts.push([(k + 0.5) * oscPeriod, p.troughs[k]]);
    });
    dg.append("path").datum(pts)
      .attr("d", d3.line().x(d => x(d[0])).y(d => y(d[1])).curve(d3.curveMonotoneX))
      .attr("fill", "none").attr("stroke", "#000").attr("stroke-width", 4.5)
      .attr("stroke-linejoin", "round");
  } else if (p.kind === "dense") {
    const tc = timesOf(p.core);
    dg.append("path").datum(p.core.map((v, k) => [tc[k], p.lo[k], v]))
      .attr("d", d3.area().x(d => x(d[0])).y0(d => y(d[1])).y1(d => y(d[2])))
      .attr("fill", "#000").attr("stroke", "#000").attr("stroke-width", 3);
    const coreAt = d3.scaleLinear().domain(tc).range(p.core);
    const th = timesOf(p.hi);
    dg.selectAll(null).data(p.hi.map((v, k) => [th[k], v])).join("line")
      .attr("x1", d => x(d[0])).attr("x2", d => x(d[0]))
      .attr("y1", d => y(coreAt(d[0]))).attr("y2", d => y(d[1]))
      .attr("stroke", "#000").attr("stroke-width", 3.5);
  }

  // axes
  const ax = g.append("g").attr("transform", `translate(0,${y(-1)})`)
    .call(d3.axisBottom(x).tickValues(xTickValues).tickFormat(d => String(d))
      .tickSizeInner(-8).tickSizeOuter(0).tickPadding(12));
  const ay = g.append("g").attr("transform", `translate(${x(0)},0)`)
    .call(d3.axisLeft(y).tickValues(yTickValues).tickFormat(d => String(d))
      .tickSizeInner(-8).tickSizeOuter(0).tickPadding(16));
  [ax, ay].forEach(a => {
    a.select(".domain").attr("stroke", axisColor).attr("stroke-width", 3.5);
    a.selectAll(".tick line").attr("stroke", axisColor).attr("stroke-width", 3.5);
    a.selectAll(".tick text").attr("fill", axisColor)
      .style("font-family", tickFont).style("font-size", "58px");
  });

  // title
  const title = svg.append("text")
    .attr("x", (x(0) + x(tMax)) / 2).attr("y", y0 - 37)
    .attr("text-anchor", "middle").attr("fill", "#000")
    .style("font-family", titleFont).style("font-size", "72px");
  title.append("tspan").attr("font-style", "italic").text("Re");
  title.append("tspan").attr("dx", "0.3em").text("=");
  title.append("tspan").attr("dx", "0.3em").text(String(reynolds[i]));
});
</script>
</body></html>
